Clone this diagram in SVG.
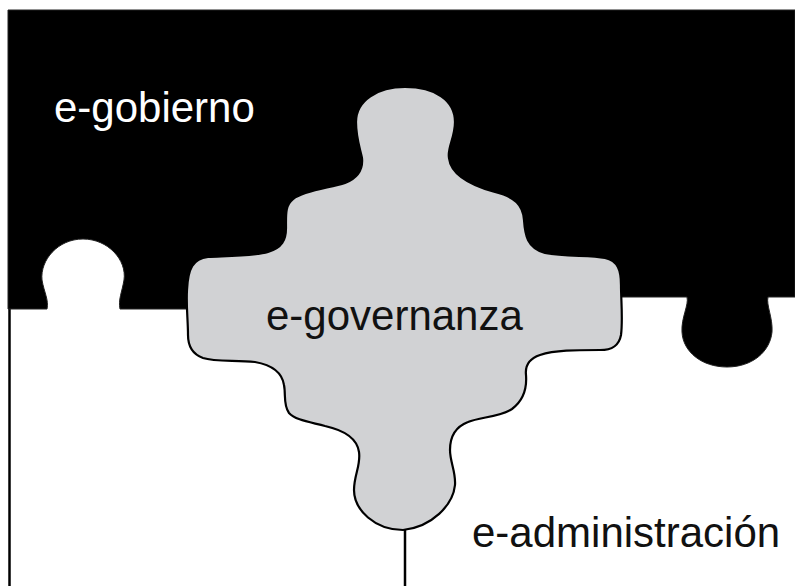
<svg xmlns="http://www.w3.org/2000/svg" width="795" height="586" viewBox="0 0 795 586">
  <style>
    .lbl { font-family: "Liberation Sans", Arial, sans-serif; font-size: 42px; }
    .edge { fill: none; stroke: #000; stroke-width: 2.5; }
  </style>
  <rect x="0" y="0" width="795" height="586" fill="#fff"/>
  <g id="e-administracion">
    <line class="edge" x1="9.5" y1="305" x2="9.5" y2="586"/>
    <line class="edge" x1="405" y1="528" x2="405" y2="586"/>
    <text class="lbl" x="472" y="547" fill="#111">e-administración</text>
  </g>
  <g id="e-gobierno">
    <path fill="#000" stroke="#222" stroke-width="1" d="M8,10 H795 V297 H768 C766,305 773,318 772,332 C770,352 752,367 727,367 C702,367 683,352 682,332 C681,318 689,305 687,297 H400 V309 H120 C118,300 122,292 124,280 C127,260 108,239 83,239 C58,239 40,260 42,280 C44,292 49,300 47,309 H8 Z"/>
    <text class="lbl" x="54" y="122" fill="#fff">e-gobierno</text>
  </g>
  <g id="e-governanza">
    <path fill="#d1d2d4" stroke="#000" stroke-width="2.2" d="M405,87 C435,87 455,100 455,122 C455,138 447,148 449,158 C451,175 470,185 495,192 C515,197 523,205 524,220 C525,235 527,248 545,253 C565,257 590,255 605,258 C618,261 621,270 621,285 C621,300 623,320 621,335 C619,346 612,350 600,350 C575,350 555,350 540,355 C528,359 525,366 526,375 C527,388 524,400 512,409 C500,417 480,417 468,422 C455,427 450,437 450,450 C450,462 456,472 455,485 C453,505 432,527 403,530 C375,530 354,510 354,490 C354,475 361,465 359,452 C357,438 343,430 325,426 C310,422 295,420 289,413 C283,405 286,395 284,385 C282,372 272,365 255,362 C235,360 215,362 203,358 C192,354 188,345 188,335 C188,320 186,305 187,290 C188,268 193,259 208,257 C230,256 255,256 268,252 C282,248 286,240 286,228 C286,215 285,205 293,199 C305,190 330,188 345,183 C360,177 363,168 362,158 C360,148 356,138 356,122 C356,100 378,87 405,87 Z"/>
    <text class="lbl" x="266" y="330" fill="#111">e-governanza</text>
  </g>
</svg>
